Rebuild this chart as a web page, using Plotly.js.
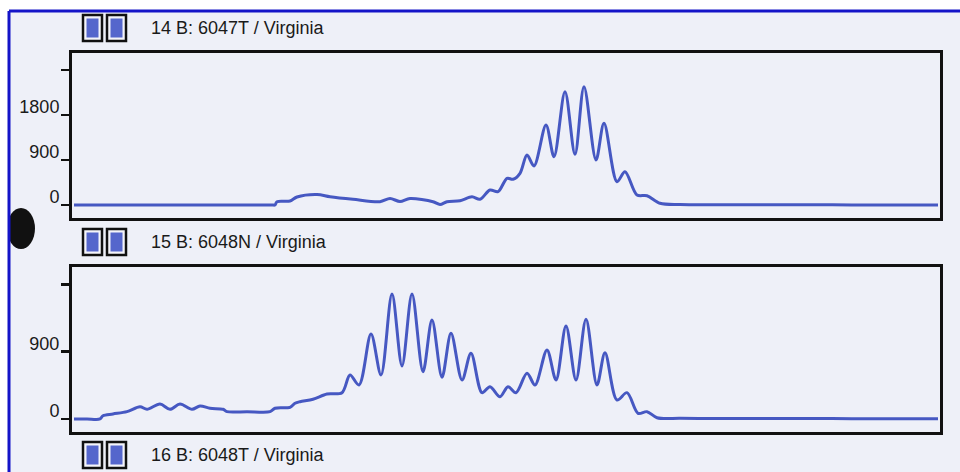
<!DOCTYPE html>
<html>
<head>
<meta charset="utf-8">
<script src="https://cdn.plot.ly/plotly-3.0.1.min.js"></script>
<style>html,body{margin:0;padding:0;background:#fff;}#chart{width:960px;height:472px;}</style>
</head>
<body>
<div id="chart"></div>
<script>
// ---- data (scan position, signal) ----
const panelTitles = ["14 B: 6047T / Virginia", "15 B: 6048N / Virginia", "16 B: 6048T / Virginia"];

const scan14 = [2, 40, 80, 120, 160, 200, 203, 205, 218, 225, 245, 258, 281, 308, 318, 328, 338, 361, 368, 375, 388, 400, 408, 418, 426, 435, 441, 448, 455, 462, 474, 482, 493, 503, 512, 524, 532, 545, 553, 565, 575, 588, 608, 640, 680, 720, 760, 800, 840, 866];
const signal14 = [0, 0, 0, 0, 0, 0, 0, 66, 80, 160, 210, 166, 114, 66, 130, 70, 130, 66, 10, 66, 86, 166, 114, 300, 266, 534, 514, 634, 1000, 780, 1600, 966, 2266, 1014, 2366, 900, 1634, 466, 666, 200, 186, 34, 10, 5, 5, 3, 3, 2, 2, 0];

const scan15 = [2, 15, 28, 31, 41, 55, 68, 75, 88, 98, 108, 120, 128, 138, 151, 155, 175, 198, 203, 218, 223, 228, 241, 255, 270, 278, 287, 299, 309, 320, 330, 340, 351, 360, 370, 379, 390, 399, 410, 418, 428, 436, 444, 455, 463, 475, 484, 494, 504, 514, 525, 533, 545, 555, 566, 575, 585, 608, 640, 680, 720, 760, 800, 840, 866];
const signal15 = [0, 0, 0, 44, 67, 98, 164, 130, 200, 130, 200, 130, 174, 143, 130, 98, 98, 98, 143, 156, 210, 231, 263, 334, 352, 588, 455, 1136, 588, 1671, 709, 1671, 632, 1324, 558, 1146, 521, 878, 352, 432, 298, 432, 352, 611, 455, 923, 521, 1243, 521, 1333, 455, 886, 254, 352, 76, 98, 17, 9, 8, 7, 6, 5, 4, 3, 3];

const tickVals14 = [0, 900, 1800, 2700];
const tickText14 = ["0", "900", "1800", ""];
const tickVals15 = [0, 900, 1800];
const tickText15 = ["0", "900", ""];

// ---- layout helpers (pixel -> paper) ----
const W = 960, H = 472;
const px = x => x / W;
const py = y => 1 - y / H;

const lineColor = "#4658c2";
const traces = [
  {x: scan14, y: signal14, type: "scatter", mode: "lines", xaxis: "x", yaxis: "y",
   line: {color: lineColor, width: 3, shape: "spline", smoothing: 0.9}, hoverinfo: "skip"},
  {x: scan15, y: signal15, type: "scatter", mode: "lines", xaxis: "x2", yaxis: "y2",
   line: {color: lineColor, width: 3, shape: "spline", smoothing: 0.9}, hoverinfo: "skip"}
];

const font = {family: "Liberation Sans, Arial, sans-serif", size: 18, color: "#1a1a1a"};

function xAx(anchor) {
  return {domain: [px(72), px(940)], range: [0, 868], anchor: anchor,
    showline: true, mirror: true, linecolor: "#111", linewidth: 3,
    showgrid: false, zeroline: false, showticklabels: false, ticks: ""};
}
function yAx(anchor, dom, rng, tv, tt) {
  return {domain: dom, range: rng, anchor: anchor,
    showline: true, mirror: true, linecolor: "#111", linewidth: 3,
    showgrid: false, zeroline: false, ticks: "outside", ticklen: 8, tickwidth: 2.6, tickcolor: "#111",
    tickvals: tv, ticktext: tt, tickfont: font, ticklabelshift: -8, ticklabelstandoff: -2};
}

const shapes = [
  // page background inside the scan border
  {type: "rect", xref: "paper", yref: "paper", x0: px(9), x1: 1.01, y0: -0.01, y1: py(11),
   fillcolor: "#eef0f8", line: {width: 0}, layer: "below"},
  // hole punch
  {type: "circle", xref: "paper", yref: "paper", x0: px(7), x1: px(35), y0: py(249), y1: py(208),
   fillcolor: "#111", line: {width: 0}, layer: "above"},
  // white margin outside the scan border
  {type: "rect", xref: "paper", yref: "paper", x0: 0, x1: px(8), y0: 0, y1: 1,
   fillcolor: "#ffffff", line: {width: 0}, layer: "above"},
  // blue scan border (top and left)
  {type: "line", xref: "paper", yref: "paper", x0: px(9), x1: 1.01, y0: py(11), y1: py(11),
   line: {color: "#1414c8", width: 3}, layer: "above"},
  {type: "line", xref: "paper", yref: "paper", x0: px(9), x1: px(9), y0: py(11), y1: -0.01,
   line: {color: "#1414c8", width: 3}, layer: "above"}
];

const headerY = [28, 242, 455];
const annotations = [];
headerY.forEach((cy, i) => {
  [[83, 102], [107, 126]].forEach(([a, b]) => {
    shapes.push({type: "rect", xref: "paper", yref: "paper", x0: px(a), x1: px(b), y0: py(cy + 13), y1: py(cy - 13),
      fillcolor: "#f4f4fa", line: {color: "#111", width: 2.5}, layer: "above"});
    shapes.push({type: "rect", xref: "paper", yref: "paper", x0: px(a + 3.5), x1: px(b - 3.5), y0: py(cy + 9.5), y1: py(cy - 9.5),
      fillcolor: "#5566cc", line: {width: 0}, layer: "above"});
  });
  annotations.push({text: panelTitles[i], xref: "paper", yref: "paper", x: px(149), y: py(cy),
    xanchor: "left", yanchor: "middle", showarrow: false, font: font});
});

const layout = {
  width: W, height: H, margin: {l: 0, r: 0, t: 0, b: 0},
  paper_bgcolor: "#ffffff", plot_bgcolor: "rgba(0,0,0,0)",
  showlegend: false,
  xaxis: xAx("y"),
  yaxis: yAx("x", [py(218), py(53)], [-260, 3040], tickVals14, tickText14),
  xaxis2: xAx("y2"),
  yaxis2: yAx("x2", [py(432), py(267)], [-174, 2032], tickVals15, tickText15),
  shapes: shapes,
  annotations: annotations
};

Plotly.newPlot("chart", traces, layout, {displayModeBar: false, staticPlot: true});
</script>
</body>
</html>
